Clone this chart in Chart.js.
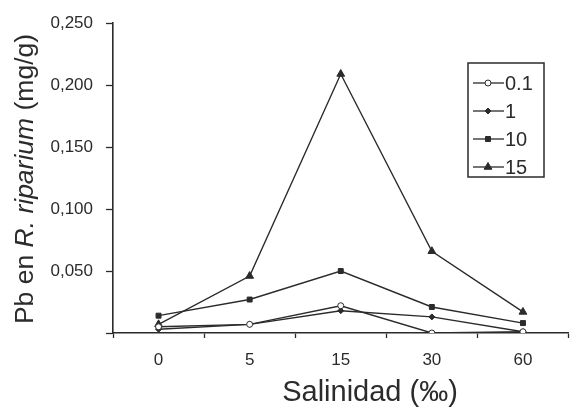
<!DOCTYPE html>
<html>
<head>
<meta charset="utf-8">
<script src="https://cdn.jsdelivr.net/npm/chart.js@4/dist/chart.umd.min.js"></script>
<style>
  html, body { margin: 0; padding: 0; background: #fff; }
  #wrap { width: 574px; height: 410px; }
</style>
</head>
<body>
<div id="wrap"><canvas id="pbChart"></canvas></div>
<script>
// salinity categories (‰)
var salinity = ['0', '5', '15', '30', '60'];
// Pb concentration in R. riparium (mg/g), one list per exposure level
var pb01 = [0.005, 0.007, 0.022, 0.000, 0.001];
var pb1 = [0.003, 0.007, 0.018, 0.013, 0.001];
var pb10 = [0.014, 0.027, 0.050, 0.021, 0.008];
var pb15 = [0.007, 0.046, 0.209, 0.066, 0.017];
var seriesNames = ['0.1', '1', '10', '15'];
var yTicks = [0, 0.05, 0.10, 0.15, 0.20, 0.25];

var ink = '#2b2b2b';
var fontFam = '"Liberation Sans", Arial, sans-serif';

function makeSet(label, values, style, radius, fill) {
  return {
    label: label,
    data: values,
    borderColor: ink,
    borderWidth: 1.4,
    pointStyle: style,
    pointRadius: radius,
    pointBackgroundColor: fill,
    pointBorderColor: ink,
    pointBorderWidth: 1,
    tension: 0
  };
}

// axis titles (y title has the italic species name)
var axisTitlesPlugin = {
  id: 'axisTitles',
  afterDraw: function(chart) {
    var ctx = chart.ctx;
    var parts = [
      { t: 'Pb en ', f: '26.5px ' + fontFam },
      { t: 'R. riparium', f: 'italic 26.5px ' + fontFam },
      { t: ' (mg/g)', f: '26.5px ' + fontFam }
    ];
    ctx.save();
    ctx.fillStyle = ink;
    var total = 0;
    parts.forEach(function(p) { ctx.font = p.f; p.w = ctx.measureText(p.t).width; total += p.w; });
    ctx.save();
    ctx.translate(33, 179);
    ctx.rotate(-Math.PI / 2);
    ctx.textBaseline = 'alphabetic';
    var x = -total / 2;
    parts.forEach(function(p) { ctx.font = p.f; ctx.fillText(p.t, x, 0); x += p.w; });
    ctx.restore();

    ctx.font = '29px ' + fontFam;
    ctx.textAlign = 'center';
    ctx.textBaseline = 'alphabetic';
    ctx.fillText('Salinidad (‰)', 370, 401);
    ctx.restore();
  }
};

// boxed legend showing line + marker
var boxLegendPlugin = {
  id: 'boxLegend',
  afterDraw: function(chart) {
    var ctx = chart.ctx;
    var left = 468, top = 63, w = 76, h = 114;
    ctx.save();
    ctx.strokeStyle = ink;
    ctx.lineWidth = 1.5;
    ctx.strokeRect(left, top, w, h);
    ctx.font = '20px ' + fontFam;
    ctx.textBaseline = 'middle';
    chart.data.datasets.forEach(function(ds, i) {
      var y = top + 20 + i * 28;
      ctx.strokeStyle = ink;
      ctx.lineWidth = 1.3;
      ctx.beginPath();
      ctx.moveTo(left + 5, y);
      ctx.lineTo(left + 36, y);
      ctx.stroke();
      ctx.fillStyle = ds.pointBackgroundColor;
      ctx.lineWidth = 1;
      Chart.helpers.drawPoint(ctx, { pointStyle: ds.pointStyle, radius: ds.pointRadius, borderWidth: 1 }, left + 20, y);
      ctx.fillStyle = ink;
      ctx.fillText(ds.label, left + 37, y + 1);
    });
    ctx.restore();
  }
};

new Chart(document.getElementById('pbChart'), {
  type: 'line',
  data: {
    labels: salinity,
    datasets: [
      makeSet(seriesNames[0], pb01, 'circle', 3, '#ffffff'),
      makeSet(seriesNames[1], pb1, 'rectRot', 3, ink),
      makeSet(seriesNames[2], pb10, 'rect', 3.5, ink),
      makeSet(seriesNames[3], pb15, 'triangle', 4.5, ink)
    ]
  },
  options: {
    responsive: true,
    maintainAspectRatio: false,
    animation: false,
    layout: { padding: { top: 9, right: 0, left: 0, bottom: 0 } },
    plugins: {
      legend: { display: false },
      tooltip: { enabled: false }
    },
    scales: {
      x: {
        offset: true,
        grid: { display: true, drawOnChartArea: false, offset: true, color: ink, tickLength: 5, tickWidth: 1.3 },
        border: { color: ink, width: 1.6 },
        ticks: { color: ink, font: { family: fontFam, size: 17 }, padding: 12 },
        afterFit: function(scale) { scale.height = 77; }
      },
      y: {
        min: 0,
        max: 0.25,
        afterBuildTicks: function(scale) { scale.ticks = yTicks.map(function(v) { return { value: v }; }); },
        grid: { display: true, drawOnChartArea: false, color: ink, tickLength: 7, tickWidth: 1.3 },
        border: { color: ink, width: 1.6 },
        ticks: {
          color: ink,
          font: { family: fontFam, size: 17 },
          padding: 13,
          callback: function(v) { return v === 0 ? '' : v.toFixed(3).replace('.', ','); }
        },
        afterFit: function(scale) { scale.width = 113; }
      }
    }
  },
  plugins: [axisTitlesPlugin, boxLegendPlugin]
});
</script>
</body>
</html>
